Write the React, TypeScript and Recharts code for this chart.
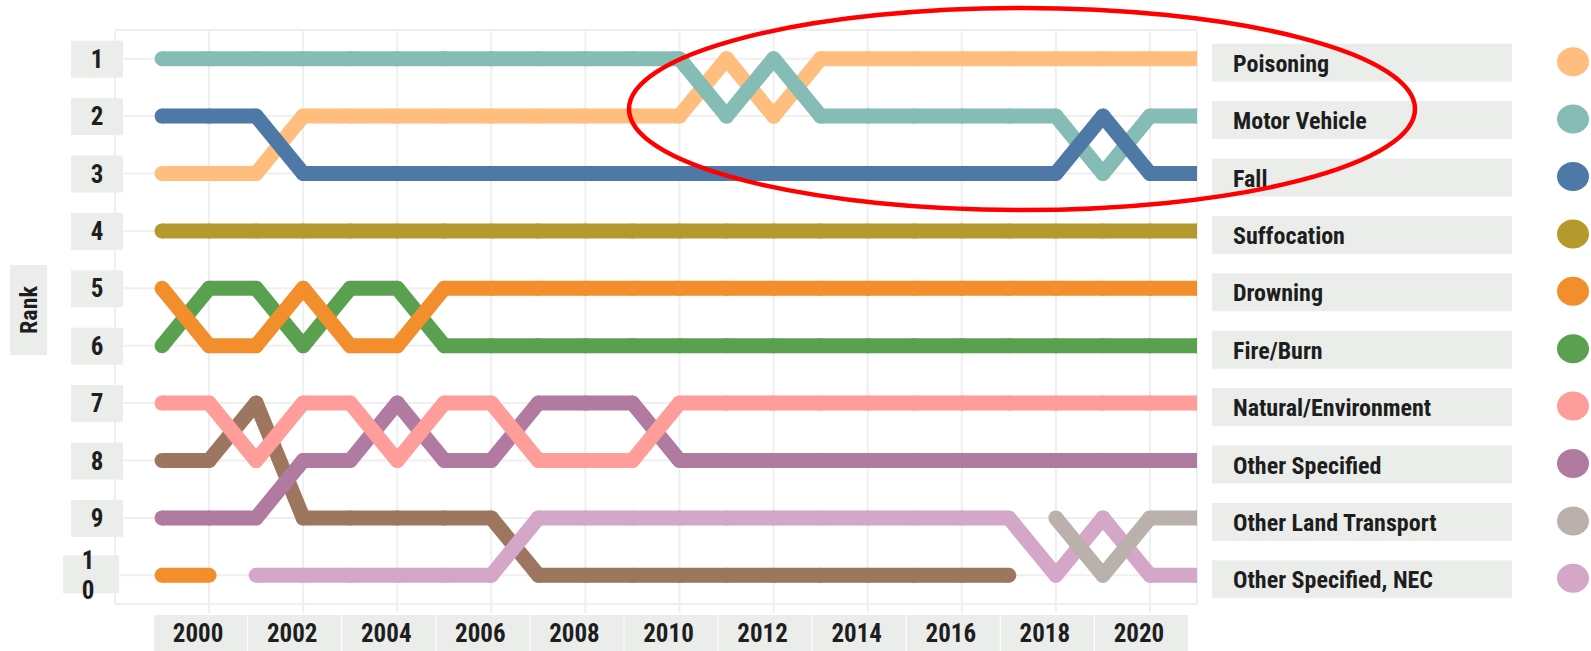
import { LineChart, Line, XAxis, YAxis, CartesianGrid } from 'recharts';

// years on the x axis
const years = [1999, 2000, 2001, 2002, 2003, 2004, 2005, 2006, 2007, 2008, 2009, 2010, 2011, 2012, 2013, 2014, 2015, 2016, 2017, 2018, 2019, 2020, 2021];

// rank per year for each cause (null = not in top 10)
const suffocation = [4, 4, 4, 4, 4, 4, 4, 4, 4, 4, 4, 4, 4, 4, 4, 4, 4, 4, 4, 4, 4, 4, 4];
const poisoning = [3, 3, 3, 2, 2, 2, 2, 2, 2, 2, 2, 2, 1, 2, 1, 1, 1, 1, 1, 1, 1, 1, 1];
const pedestrianOther = [8, 8, 7, 9, 9, 9, 9, 9, 10, 10, 10, 10, 10, 10, 10, 10, 10, 10, 10, null, null, null, null];
const otherSpecifiedNec = [null, null, 10, 10, 10, 10, 10, 10, 9, 9, 9, 9, 9, 9, 9, 9, 9, 9, 9, 10, 9, 10, 10];
const otherSpecified = [9, 9, 9, 8, 8, 7, 8, 8, 7, 7, 7, 8, 8, 8, 8, 8, 8, 8, 8, 8, 8, 8, 8];
const otherLandTransport = [null, null, null, null, null, null, null, null, null, null, null, null, null, null, null, null, null, null, null, 9, 10, 9, 9];
const naturalEnvironment = [7, 7, 8, 7, 7, 8, 7, 7, 8, 8, 8, 7, 7, 7, 7, 7, 7, 7, 7, 7, 7, 7, 7];
const motorVehicle = [1, 1, 1, 1, 1, 1, 1, 1, 1, 1, 1, 1, 2, 1, 2, 2, 2, 2, 2, 2, 3, 2, 2];
const fireBurn = [6, 5, 5, 6, 5, 5, 6, 6, 6, 6, 6, 6, 6, 6, 6, 6, 6, 6, 6, 6, 6, 6, 6];
const fall = [2, 2, 2, 3, 3, 3, 3, 3, 3, 3, 3, 3, 3, 3, 3, 3, 3, 3, 3, 3, 2, 3, 3];
const drowning = [5, 6, 6, 5, 6, 6, 5, 5, 5, 5, 5, 5, 5, 5, 5, 5, 5, 5, 5, 5, 5, 5, 5];
const cutPierce = [10, 10, null, null, null, null, null, null, null, null, null, null, null, null, null, null, null, null, null, null, null, null, null];

const yearTicks = [2000, 2002, 2004, 2006, 2008, 2010, 2012, 2014, 2016, 2018, 2020];
const rankTicks = [1, 2, 3, 4, 5, 6, 7, 8, 9, 10];

// drawn in this order (later ones sit on top)
const series = [
  { key: 's0', name: 'Suffocation', color: '#B6992D', ranks: suffocation },
  { key: 's1', name: 'Poisoning', color: '#FFBE7D', ranks: poisoning },
  { key: 's2', name: 'Pedestrian, Other', color: '#9D7660', ranks: pedestrianOther },
  { key: 's3', name: 'Other Specified, NEC', color: '#D4A6C8', ranks: otherSpecifiedNec },
  { key: 's4', name: 'Other Specified', color: '#B07AA1', ranks: otherSpecified },
  { key: 's5', name: 'Other Land Transport', color: '#BAB0AC', ranks: otherLandTransport },
  { key: 's6', name: 'Natural/Environment', color: '#FF9D9A', ranks: naturalEnvironment },
  { key: 's7', name: 'Motor Vehicle', color: '#86BCB6', ranks: motorVehicle },
  { key: 's8', name: 'Fire/Burn', color: '#59A14F', ranks: fireBurn },
  { key: 's9', name: 'Fall', color: '#4E79A7', ranks: fall },
  { key: 's10', name: 'Drowning', color: '#F28E2B', ranks: drowning },
  { key: 's11', name: 'Cut/Pierce', color: '#F28E2B', ranks: cutPierce },
];

const chartData = years.map((year, i) => {
  const row: Record<string, number | null> = { year };
  series.forEach(s => { row[s.key] = s.ranks[i]; });
  return row;
});

const lastIdx = years.length - 1;
const seriesAtFinalRank = (rank: number) => series.find(s => s.ranks[lastIdx] === rank);

const FONT = "'Roboto Condensed', 'Liberation Sans Narrow', 'DejaVu Sans Condensed', Roboto, sans-serif";
const BOX = '#ebedeb';
const INK = '#1e1e1e';
const GRID = '#efefef';

function RankTick(props: any) {
  const { x, y, payload } = props;
  const v = payload.value;
  if (v === 10) {
    return (
      <g>
        <rect x={x - 52} y={y - 20} width={56} height={38} fill={BOX} />
        <text x={x - 27} y={y - 6} textAnchor="middle" fontFamily={FONT} fontWeight={700} fontSize={25} fill={INK}>1</text>
        <text x={x - 27} y={y + 24} textAnchor="middle" fontFamily={FONT} fontWeight={700} fontSize={25} fill={INK}>0</text>
      </g>
    );
  }
  return (
    <g>
      <rect x={x - 44} y={y - 18} width={52} height={37} fill={BOX} />
      <text x={x - 18} y={y + 9} textAnchor="middle" fontFamily={FONT} fontWeight={700} fontSize={25} fill={INK}>{v}</text>
    </g>
  );
}

function YearTick(props: any) {
  const { x, y, payload } = props;
  return (
    <g>
      <rect x={x - 55} y={y + 2} width={93} height={37} fill={BOX} />
      <text x={x - 11} y={y + 29} textAnchor="middle" fontFamily={FONT} fontWeight={700} fontSize={25} fill={INK}>{payload.value}</text>
    </g>
  );
}

function LegendTick(props: any) {
  const { x, y, payload } = props;
  const s = seriesAtFinalRank(payload.value);
  if (!s) return null;
  return (
    <g>
      <rect x={x + 15} y={y - 15} width={300} height={38} fill={BOX} />
      <text x={x + 36} y={y + 13} fontFamily={FONT} fontWeight={700} fontSize={24} fill={INK}>{s.name}</text>
      <ellipse cx={x + 376} cy={y + 3} rx={16} ry={14.5} fill={s.color} />
    </g>
  );
}

function RankLabel(props: any) {
  const { viewBox } = props;
  const cy = viewBox.y + viewBox.height / 2 - 7;
  return (
    <g>
      <rect x={10} y={cy - 45} width={37} height={90} fill={BOX} />
      <text x={37} y={cy} transform={`rotate(-90 37 ${cy})`} textAnchor="middle" fontFamily={FONT} fontWeight={700} fontSize={24} fill={INK}>Rank</text>
    </g>
  );
}

export default function App() {
  return (
    <div style={{ position: 'absolute', left: 0, top: 0, width: 1591, height: 651, background: '#fff' }}>
      <LineChart
        width={1591}
        height={651}
        data={chartData}
        margin={{ top: 30, right: 0, left: 0, bottom: 0 }}
      >
        <CartesianGrid yAxisId="rank" stroke={GRID} strokeWidth={2} />
        <XAxis
          dataKey="year"
          type="number"
          domain={[1998, 2021]}
          allowDataOverflow
          ticks={yearTicks}
          height={47}
          tickSize={9}
          tickMargin={0}
          axisLine={{ stroke: GRID, strokeWidth: 2 }}
          tickLine={{ stroke: GRID, strokeWidth: 2 }}
          tick={<YearTick />}
        />
        <YAxis
          yAxisId="rank"
          type="number"
          domain={[0.5, 10.5]}
          reversed
          ticks={rankTicks}
          width={115}
          tickSize={0}
          tickMargin={0}
          axisLine={{ stroke: GRID, strokeWidth: 2 }}
          tickLine={false}
          tick={<RankTick />}
          label={{ content: <RankLabel /> }}
        />
        <YAxis
          yAxisId="legend"
          orientation="right"
          type="number"
          domain={[0.5, 10.5]}
          reversed
          ticks={rankTicks}
          width={394}
          tickSize={0}
          tickMargin={0}
          axisLine={false}
          tickLine={false}
          tick={<LegendTick />}
        />
        {series.map((s, i) => (
          <Line
            key={s.key}
            // the first series also anchors the right-hand (legend) axis, same scale
            yAxisId={i === 0 ? 'legend' : 'rank'}
            dataKey={s.key}
            name={s.name}
            type="linear"
            stroke={s.color}
            strokeWidth={15}
            strokeLinejoin="round"
            dot={{ r: 7.5, fill: s.color, stroke: 'none' }}
            activeDot={false}
            connectNulls={false}
            isAnimationActive={false}
          />
        ))}
      </LineChart>
      <svg width={1591} height={651} style={{ position: 'absolute', left: 0, top: 0, pointerEvents: 'none' }}>
        <ellipse cx={1022} cy={109} rx={393} ry={101} fill="none" stroke="#f00" strokeWidth={4.5} />
      </svg>
    </div>
  );
}
